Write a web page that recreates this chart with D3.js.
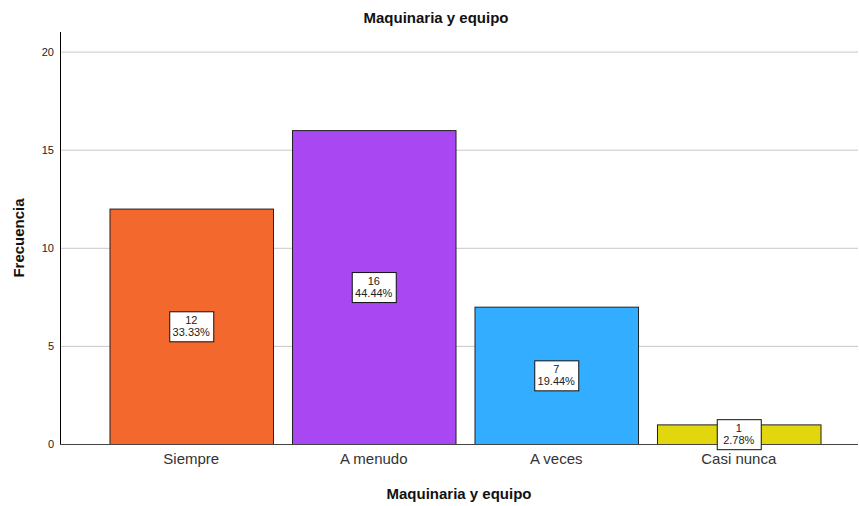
<!DOCTYPE html>
<html>
<head>
<meta charset="utf-8">
<script src="https://cdn.jsdelivr.net/npm/d3@7"></script>
<style>
	body { margin: 0; background: #fff; }
	text { font-family: Arial, "Liberation Sans", sans-serif; }
</style>
</head>
<body>
<svg></svg>
<script>
const categories = ['Siempre', 'A menudo', 'A veces', 'Casi nunca'];
const counts = [12, 16, 7, 1];
const percents = ['33.33%', '44.44%', '19.44%', '2.78%'];
const colors = ['#f2682d', '#a948f2', '#33adff', '#e2d60f'];
const yTicks = [0, 5, 10, 15, 20];

const width = 859;
const height = 506;
const margin = { top: 32, right: 1, bottom: 62, left: 60 };
const innerWidth = width - margin.left - margin.right;
const innerHeight = height - margin.top - margin.bottom;

const svg = d3.select('svg')
	.attr('width', width)
	.attr('height', height);

const g = svg.append('g')
	.attr('transform', `translate(${margin.left},${margin.top})`);

const xScale = d3.scaleBand()
	.domain(categories)
	.range([40, 770])
	.paddingInner(0.104)
	.paddingOuter(0.052);

const yScale = d3.scaleLinear()
	.domain([0, 21])
	.range([innerHeight, 0]);

// grid
g.append('g')
	.selectAll('line')
	.data(yTicks.slice(1))
	.join('line')
	.attr('x1', 0)
	.attr('x2', innerWidth)
	.attr('y1', d => yScale(d) + 0.5)
	.attr('y2', d => yScale(d) + 0.5)
	.attr('stroke', '#c8c8c8')
	.attr('stroke-width', 1);

const yAxis = d3.axisLeft(yScale)
	.tickValues(yTicks)
	.tickSize(0)
	.tickPadding(6);

const yAxisGroup = g.append('g').call(yAxis);
yAxisGroup.select('.domain').remove();
yAxisGroup.selectAll('text')
	.attr('font-size', 11)
	.attr('fill', '#222');

// bars
g.selectAll('rect.bar')
	.data(counts)
	.join('rect')
	.attr('class', 'bar')
	.attr('x', (d, i) => xScale(categories[i]) + 0.5)
	.attr('y', d => yScale(d) + 0.5)
	.attr('width', xScale.bandwidth())
	.attr('height', d => innerHeight - yScale(d))
	.attr('fill', (d, i) => colors[i])
	.attr('stroke', '#222')
	.attr('stroke-width', 1);

// axis lines
g.append('line')
	.attr('x1', 0.5).attr('x2', 0.5)
	.attr('y1', 0).attr('y2', innerHeight)
	.attr('stroke', '#000');

g.append('line')
	.attr('x1', 0).attr('x2', innerWidth)
	.attr('y1', innerHeight + 0.5).attr('y2', innerHeight + 0.5)
	.attr('stroke', '#444');

const xAxis = d3.axisBottom(xScale)
	.tickSize(0)
	.tickPadding(9);

const xAxisGroup = g.append('g')
	.attr('transform', `translate(0,${innerHeight})`)
	.call(xAxis);
xAxisGroup.select('.domain').remove();
xAxisGroup.selectAll('text')
	.attr('font-size', 15)
	.attr('fill', '#333');

// value labels
const boxW = 44;
const boxH = 30;
const labels = g.selectAll('g.lbl')
	.data(counts)
	.join('g')
	.attr('class', 'lbl')
	.attr('transform', (d, i) => {
		const cx = xScale(categories[i]) + xScale.bandwidth() / 2;
		const cy = yScale(d / 2);
		return `translate(${cx},${cy})`;
	});

labels.append('rect')
	.attr('x', -boxW / 2 + 0.5)
	.attr('y', -boxH / 2 + 0.5)
	.attr('width', boxW)
	.attr('height', boxH)
	.attr('fill', '#fff')
	.attr('stroke', '#111');

labels.append('text')
	.attr('text-anchor', 'middle')
	.attr('y', -2)
	.attr('font-size', 11)
	.attr('fill', '#222')
	.text(d => d);

labels.append('text')
	.attr('text-anchor', 'middle')
	.attr('y', 10)
	.attr('font-size', 11)
	.attr('fill', '#222')
	.text((d, i) => percents[i]);

// titles
svg.append('text')
	.attr('x', 436)
	.attr('y', 23)
	.attr('text-anchor', 'middle')
	.attr('font-size', 15)
	.attr('font-weight', 'bold')
	.attr('fill', '#111')
	.text('Maquinaria y equipo');

svg.append('text')
	.attr('x', 459)
	.attr('y', 499)
	.attr('text-anchor', 'middle')
	.attr('font-size', 15)
	.attr('font-weight', 'bold')
	.attr('fill', '#111')
	.text('Maquinaria y equipo');

svg.append('text')
	.attr('transform', 'rotate(-90)')
	.attr('x', -238)
	.attr('y', 24)
	.attr('text-anchor', 'middle')
	.attr('font-size', 15)
	.attr('font-weight', 'bold')
	.attr('fill', '#111')
	.text('Frecuencia');
</script>
</body>
</html>
